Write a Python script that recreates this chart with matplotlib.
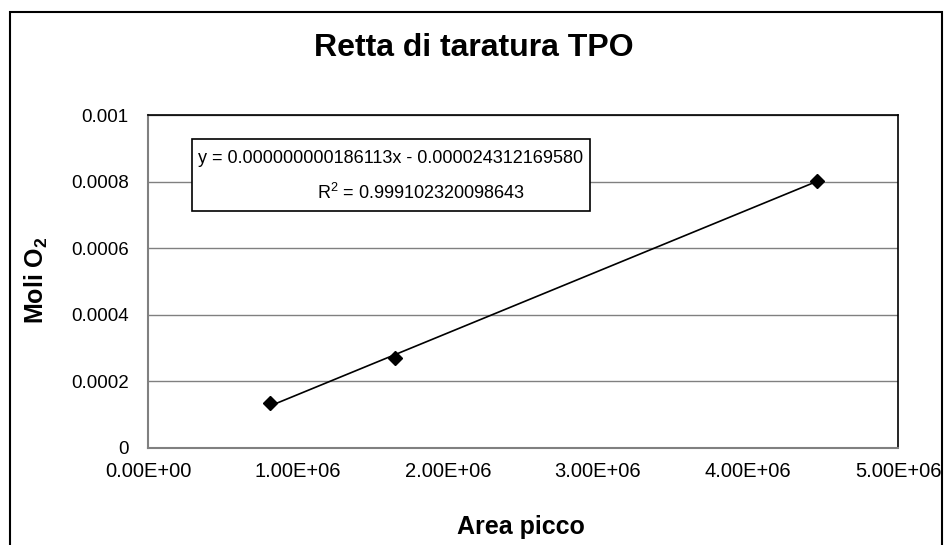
import numpy as np
import matplotlib.pyplot as plt
from matplotlib.patches import Rectangle
from matplotlib.ticker import FuncFormatter, MultipleLocator

plt.rcParams['font.family'] = ['Liberation Sans', 'DejaVu Sans']
plt.rcParams['mathtext.fontset'] = 'custom'
plt.rcParams['mathtext.rm'] = 'Liberation Sans'
plt.rcParams['mathtext.bf'] = 'Liberation Sans:bold'

# data
area = [0.813e6, 1.647e6, 4.458e6]
moli = [0.000135, 0.000269, 0.000803]

eq_text = "y = 0.000000000186113x - 0.000024312169580"
r2_text = "R$^2$ = 0.999102320098643"

fig = plt.figure(figsize=(9.46, 5.45), dpi=100)
ax = fig.add_axes([148 / 946, 97 / 545, 750 / 946, 333 / 545])

# outer chart border (bottom edge is cut off in the reference)
fig.patches.append(Rectangle((10 / 946, -0.02), 932 / 946, 0.02 + 533 / 545,
                             transform=fig.transFigure, fill=False,
                             edgecolor='black', linewidth=1.5))

# trendline over the data range
coef = np.polyfit(area, moli, 1)
xs = np.array([min(area), max(area)])
ax.plot(xs, np.polyval(coef, xs), color='black', linewidth=1.2, zorder=3)
ax.plot(area, moli, linestyle='none', marker='D', markersize=7,
        color='black', zorder=4)

ax.set_xlim(0, 5e6)
ax.set_ylim(0, 0.001)
ax.xaxis.set_major_locator(MultipleLocator(1e6))
ax.yaxis.set_major_locator(MultipleLocator(0.0002))
ax.xaxis.set_major_formatter(FuncFormatter(lambda v, p: f"{v:.2E}"))
ax.yaxis.set_major_formatter(FuncFormatter(lambda v, p: f"{v:g}"))
ax.tick_params(length=0, colors='black')
ax.tick_params(axis='x', pad=10, labelsize=14.5)
ax.tick_params(axis='y', pad=14, labelsize=13.5)

ax.grid(axis='y', color='#808080', linewidth=1)
ax.set_axisbelow(True)
for s in ['left', 'bottom']:
    ax.spines[s].set_color('#808080')
    ax.spines[s].set_linewidth(1.5)
for s in ['top', 'right']:
    ax.spines[s].set_color('black')
    ax.spines[s].set_linewidth(1.2)

# equation box
ax.add_patch(Rectangle((0.0587, 0.712), 0.531, 0.216, transform=ax.transAxes,
                       facecolor='white', edgecolor='black', linewidth=1.2,
                       zorder=5))
ax.text(0.324, 0.868, eq_text, transform=ax.transAxes, ha='center',
        va='center', fontsize=13, zorder=6)
ax.text(0.364, 0.766, r2_text, transform=ax.transAxes, ha='center',
        va='center', fontsize=13, zorder=6)

fig.text(474 / 946, 1 - 48 / 545, "Retta di taratura TPO", ha='center',
         va='center', fontsize=23, fontweight='bold')
fig.text(521 / 946, 1 - 527 / 545, "Area picco", ha='center', va='center',
         fontsize=18, fontweight='bold')
fig.text(36 / 946, 1 - 280 / 545, r"Moli O$_\mathbf{2}$", ha='center',
         va='center', rotation=90, fontsize=18, fontweight='bold')

fig.savefig('out.png', dpi=100)
